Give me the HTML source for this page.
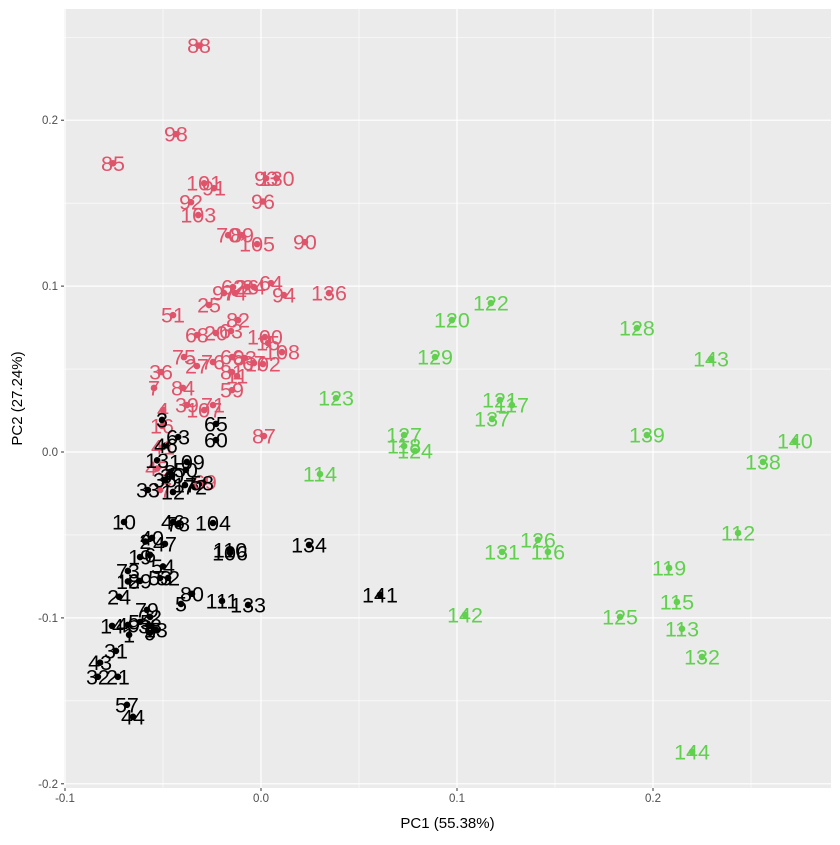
<!DOCTYPE html>
<html><head><meta charset="utf-8"><style>
body{margin:0;background:#fff;}
svg text{font-family:"Liberation Sans",sans-serif;}
</style></head><body>
<svg id="chart" width="840" height="840"></svg>
<script>
const labels=["88","98","85","101","91","93","130","96","92","103","70","89","105","90","64","94","136","62","97","74","26","24","25","51","82","68","20","63","100","15","108","75","27","76","66","83","67","102","81","11","36","7","84","59","39","107","71","87","4","16","41","45","37","69",
"65","60","63","46","3","13","109","50","30","33","12","17","58","72","35","8","10","46","78","104","40","2","47","6","19","110","106","134","54","73","18","29","53","52","24","80","5","111","133","141","79","22","14","49","55","38","23","9","1","31","43","32","21","57","44",
"122","120","128","143","129","123","121","117","137","127","118","124","139","140","138","114","112","126","116","131","119","115","113","125","142","132","144"];
const groups=[1,1,1,1,1,1,1,1,1,1,1,1,1,1,1,1,1,1,1,1,1,1,1,1,1,1,1,1,1,1,1,1,1,1,1,1,1,1,1,1,1,1,1,1,1,1,1,1,1,1,1,1,1,1,
0,0,0,0,0,0,0,0,0,0,0,0,0,0,0,0,0,0,0,0,0,0,0,0,0,0,0,0,0,0,0,0,0,0,0,0,0,0,0,0,0,0,0,0,0,0,0,0,0,0,0,0,0,0,0,
2,2,2,2,2,2,2,2,2,2,2,2,2,2,2,2,2,2,2,2,2,2,2,2,2,2,2];
const pc1=[-0.0316,-0.0434,-0.0755,-0.029,-0.024,0.0026,0.008,0.001,-0.0357,-0.032,-0.0168,-0.0097,-0.002,0.0224,0.0051,0.0117,0.0347,-0.0143,-0.0189,-0.0133,-0.0071,-0.0036,-0.0265,-0.0449,-0.0117,-0.0327,-0.023,-0.0153,0.002,0.0036,0.0107,-0.0393,-0.0327,-0.0245,-0.0148,-0.0082,-0.0036,0.001,-0.0148,-0.0122,-0.051,-0.0546,-0.0398,-0.0148,-0.0378,-0.029,-0.0245,0.0015,-0.05,-0.0505,-0.050,-0.053,-0.0515,-0.0286,
-0.023,-0.023,-0.0423,-0.0485,-0.0505,-0.053,-0.0378,-0.0383,-0.0454,-0.0577,-0.0449,-0.0388,-0.0301,-0.0337,-0.049,-0.0464,-0.0699,-0.0449,-0.0423,-0.0245,-0.0556,-0.059,-0.049,-0.0566,-0.0617,-0.0158,-0.0158,0.0245,-0.05,-0.0679,-0.0679,-0.0617,-0.0515,-0.0474,-0.0724,-0.0352,-0.0408,-0.0199,-0.0066,0.0607,-0.0582,-0.0566,-0.076,-0.0679,-0.0617,-0.0566,-0.0536,-0.0566,-0.0673,-0.074,-0.0821,-0.0832,-0.073,-0.0684,-0.0653,
0.1173,0.0974,0.1918,0.2296,0.0888,0.0383,0.1219,0.128,0.1179,0.073,0.073,0.0786,0.1969,0.2724,0.2561,0.0301,0.2434,0.1413,0.1464,0.123,0.2082,0.2122,0.2148,0.1832,0.1041,0.225,0.2199];
const pc2=[0.245,0.1916,0.174,0.162,0.159,0.165,0.165,0.151,0.1506,0.1428,0.1307,0.1307,0.1253,0.1265,0.1018,0.0946,0.0958,0.0994,0.0958,0.0958,0.0994,0.0994,0.0886,0.0825,0.0795,0.0705,0.0717,0.0729,0.0693,0.0657,0.0602,0.0572,0.0518,0.0542,0.0572,0.0566,0.0536,0.053,0.0482,0.0458,0.0482,0.0386,0.0386,0.0373,0.0283,0.0253,0.0283,0.0096,0.0253,0.0157,0.003,-0.010,-0.0229,-0.018,
0.0169,0.0072,0.009,0.004,0.0193,-0.005,-0.006,-0.0108,-0.0145,-0.0229,-0.0241,-0.0199,-0.0187,-0.0211,-0.0169,-0.012,-0.0422,-0.0422,-0.0434,-0.0428,-0.0518,-0.054,-0.0554,-0.062,-0.0633,-0.059,-0.0608,-0.056,-0.069,-0.0717,-0.078,-0.0777,-0.076,-0.0759,-0.0873,-0.0855,-0.0916,-0.0898,-0.0922,-0.0861,-0.0952,-0.0994,-0.1048,-0.1042,-0.1024,-0.1048,-0.1072,-0.109,-0.1102,-0.1199,-0.127,-0.1355,-0.1355,-0.1524,-0.1596,
0.0898,0.0795,0.0747,0.056,0.0572,0.0325,0.0313,0.0283,0.0199,0.0102,0.0036,0.0006,0.0102,0.0066,-0.006,-0.0133,-0.0488,-0.053,-0.0602,-0.0602,-0.0699,-0.0904,-0.1066,-0.0994,-0.0982,-0.1235,-0.1807];
const xTicks=[-0.1,0.0,0.1,0.2];
const xTickLabels=["-0.1","0.0","0.1","0.2"];
const yTicks=[-0.2,-0.1,0.0,0.1,0.2];
const yTickLabels=["-0.2","-0.1","0.0","0.1","0.2"];
const xMinor=[-0.05,0.05,0.15,0.25];
const yMinor=[-0.15,-0.05,0.05,0.15,0.25];
const colors=["#000000","#DF536B","#61D04F"];

const NS="http://www.w3.org/2000/svg";
const svg=document.getElementById('chart');
const P={l:64,r:831,t:9,b:788};
function sx(v){return 261+v*1960;}
function sy(v){return 452-v*1659;}
function mk(tag,attrs,parent){const e=document.createElementNS(NS,tag);for(const k in attrs)e.setAttribute(k,attrs[k]);(parent||svg).appendChild(e);return e;}

const panel=mk('rect',{x:P.l,y:P.t,width:P.r-P.l,height:P.b-P.t,fill:'#EBEBEB'});


xMinor.forEach(v=>{const l=mk('line',{x1:sx(v),x2:sx(v),y1:P.t,y2:P.b,stroke:'#fff','stroke-width':0.6});

});
yMinor.forEach(v=>{const l=mk('line',{x1:P.l,x2:P.r,y1:sy(v),y2:sy(v),stroke:'#fff','stroke-width':0.6});

});
xTicks.forEach((v,i)=>{const l=mk('line',{x1:sx(v),x2:sx(v),y1:P.t,y2:P.b,stroke:'#fff','stroke-width':1.2});


const tk=mk('line',{x1:sx(v),x2:sx(v),y1:P.b,y2:P.b+3,stroke:'#333','stroke-width':1});


const t=mk('text',{x:sx(v),y:P.b+14,'text-anchor':'middle','font-size':11.5,fill:'#4D4D4D'});t.textContent=xTickLabels[i];

});
yTicks.forEach((v,i)=>{const l=mk('line',{x1:P.l,x2:P.r,y1:sy(v),y2:sy(v),stroke:'#fff','stroke-width':1.2});


const tk=mk('line',{x1:P.l-3,x2:P.l,y1:sy(v),y2:sy(v),stroke:'#333','stroke-width':1});


const t=mk('text',{x:P.l-6,y:sy(v)+4,'text-anchor':'end','font-size':11.5,fill:'#4D4D4D'});t.textContent=yTickLabels[i];

});
pc1.forEach((v,i)=>{const c=mk('circle',{cx:sx(v),cy:sy(pc2[i]),r:3.3,fill:colors[groups[i]]});

});
pc1.forEach((v,i)=>{const t=mk('text',{x:sx(v),y:sy(pc2[i])+7.5,'text-anchor':'middle','font-size':21.5,fill:colors[groups[i]]});t.textContent=labels[i];

});
const xt=mk('text',{x:(P.l+P.r)/2,y:828,'text-anchor':'middle','font-size':15,fill:'#000'});xt.textContent='PC1 (55.38%)';


const yt=mk('text',{x:0,y:0,'text-anchor':'middle','font-size':15,fill:'#000',transform:'translate(22,'+((P.t+P.b)/2)+') rotate(-90)'});yt.textContent='PC2 (27.24%)';


</script>
</body></html>
